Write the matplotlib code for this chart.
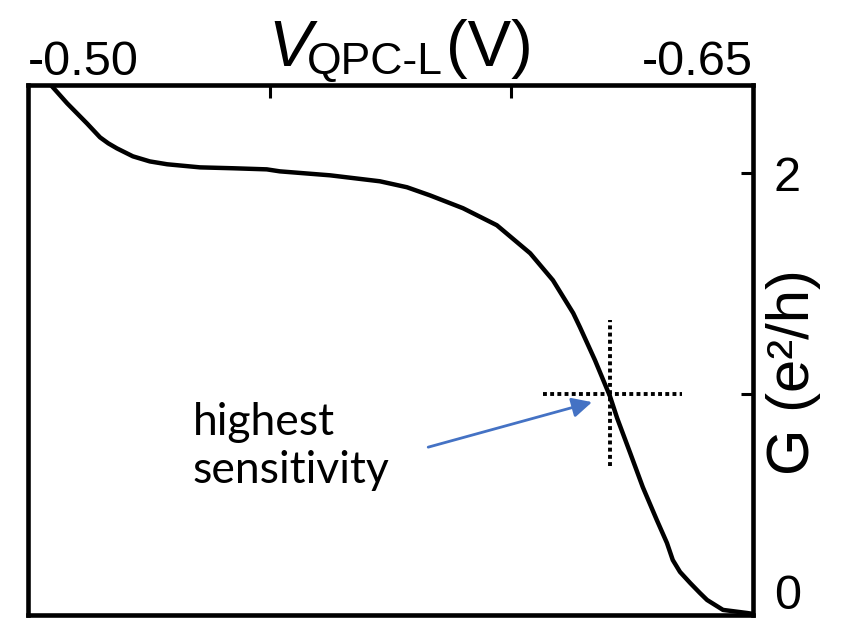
import matplotlib.pyplot as plt
from matplotlib.transforms import ScaledTranslation

plt.rcParams['font.family'] = ['Liberation Sans', 'DejaVu Sans']

# QPC gate sweep: conductance vs gate voltage
v_qpc = [-0.5035, -0.5081, -0.5122, -0.5149, -0.5166, -0.5184, -0.5217, -0.5252,
         -0.5288, -0.5356, -0.5424, -0.5494, -0.5521, -0.5625, -0.5728, -0.5784,
         -0.5832, -0.5900, -0.5970, -0.6039, -0.6086, -0.6128, -0.6142, -0.6173,
         -0.6204, -0.6219, -0.6246, -0.6272, -0.6301, -0.6322, -0.6334, -0.6349,
         -0.6370, -0.6390, -0.6405, -0.6438, -0.6488, -0.6500]
g_cond = [2.430, 2.317, 2.226, 2.163, 2.136, 2.113, 2.077, 2.054,
          2.041, 2.027, 2.023, 2.018, 2.009, 1.991, 1.964, 1.937,
          1.900, 1.842, 1.765, 1.638, 1.516, 1.367, 1.303, 1.154,
          0.991, 0.891, 0.733, 0.579, 0.430, 0.326, 0.249, 0.195,
          0.145, 0.100, 0.068, 0.023, 0.009, 0.005]

# working point crosshair
cross_v = -0.6204
cross_g = 1.0
cross_v_span = [-0.6066, -0.6353]
cross_g_span = [0.674, 1.335]

arrow_tail = (-0.5828, 0.760)
arrow_head = (-0.6167, 0.964)

x_ticks = [-0.50, -0.55, -0.60, -0.65]
x_ticklabels = ['-0.50', '', '', '-0.65']
y_ticks = [0, 1, 2]
y_ticklabels = ['0', '', '2']

W, H = 846, 619
fig = plt.figure(figsize=(W / 100, H / 100), dpi=100)
ax = fig.add_axes([28 / W, 4 / H, 725 / W, 530 / H])

ax.plot(v_qpc, g_cond, color='black', lw=3.2, solid_capstyle='round',
        solid_joinstyle='round')
ax.plot(cross_v_span, [cross_g, cross_g], color='black', lw=2.8,
        linestyle=(0, (1, 0.85)), dash_capstyle='butt')
ax.plot([cross_v, cross_v], cross_g_span, color='black', lw=2.8,
        linestyle=(0, (1, 0.85)), dash_capstyle='butt')

ax.annotate('', xy=arrow_head, xytext=arrow_tail,
            arrowprops=dict(arrowstyle='-|>', color='#4472C4', lw=2,
                            mutation_scale=30, shrinkA=0, shrinkB=0))
ax.text(-0.5341, 0.965, 'highest\nsensitivity', family=['Lato', 'DejaVu Sans'],
        fontsize=32, va='top', ha='left', linespacing=1.22)

ax.set_xlim(-0.50, -0.65)
ax.set_ylim(0, 2.4)

ax.xaxis.tick_top()
ax.set_xticks(x_ticks)
ax.set_xticklabels(x_ticklabels)
xl = ax.get_xticklabels()
xl[0].set_ha('left')
xl[-1].set_ha('right')
ax.tick_params(axis='x', direction='in', length=9, width=2.2, labelsize=35, pad=0)

ax.yaxis.tick_right()
ax.set_yticks(y_ticks)
ax.set_yticklabels(y_ticklabels)
ax.tick_params(axis='y', direction='in', length=9, width=2.2, labelsize=35, pad=15)
# keep the "0" label inside the figure
zero = ax.get_yticklabels()[0]
zero.set_va('baseline')
zero.set_transform(zero.get_transform() + ScaledTranslation(0, 6 / 100, fig.dpi_scale_trans))

ax.yaxis.set_label_position('right')
ax.set_ylabel('G (e\u00b2/h)', fontsize=43)
ax.yaxis.set_label_coords(1.018, 0.458)

for s in ax.spines.values():
    s.set_linewidth(3.3)

# axis title on top, built from three pieces
fig.text(268 / W, 1 - 66 / H, 'V', fontsize=47, style='italic', va='baseline')
fig.text(307 / W, 1 - 74 / H, 'QPC-L', fontsize=32, va='baseline')
fig.text(446 / W, 1 - 66 / H, '(V)', fontsize=47, va='baseline')

fig.savefig('out.png', dpi=100)
